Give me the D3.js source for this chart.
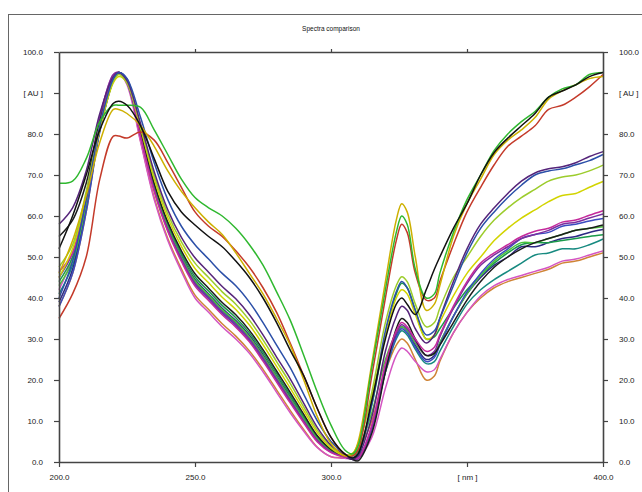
<!DOCTYPE html>
<html><head><meta charset="utf-8">
<script src="https://cdn.jsdelivr.net/npm/d3@7"></script>
<style>body{margin:0;background:#fff}svg{display:block}</style>
</head><body><svg id="c" width="642" height="492"></svg>
<script>
const wavelengths = [200,205,210,215,220,222,225,230,235,240,245,250,255,260,265,270,275,280,285,290,295,300,305,308,310,315,320,324,326,328,331,335,338,340,345,350,355,360,365,370,375,380,385,390,395,400];

const greenA   = [68,68.5,74,83,87,87,87,86.5,81,75,69,64.5,62,60,57,53,48,41.5,34.6,26,17,9,3,2,4,23,42,56,60,58,47,40,41,46,56,64,70,76,80,83,85.5,89,91,92,94.5,95];
const blackA   = [52,60,70,81,87.5,88,87,82,74,66,61,57.8,55,52.5,49,45,40,34,27.3,21,13,6,2,1,2,15,30,38.5,40,38.5,36,42,47,50,57,63,70,75.5,79,82,85,89,90.5,92,94,95];
const redA     = [35,41,50,69,79.5,79.5,79,80.5,78.5,73,67,61,57.5,55,51.5,47.5,42.5,36.5,29,21,13,6,2,1.5,3,21,40,54,58,56,46,39.5,40,44,53,61,67,72.5,77,79.5,82,86,87,89,91.5,94.5];
const ochreA   = [46,54,65,78,86,86,85,82,77,71,66,62,58.5,55.5,51,46,41,35,28.5,20,11,4.5,1.5,2,5,24,44,59,63,61,50,37,38.5,43,55,63,69,75,78.5,81,84,88.5,90.5,92,93.5,94];
const blueA    = [40,49,64,82,93.5,95,93.5,84,73,64,57.5,53,49.5,46,43,39,34,28.5,23,16.5,10,5,2,1,2,14,32,41.5,44,42.5,37,31,32,35,43,51,57,61,64.5,67.5,70,71,71.5,72.5,73.5,75];
const purpleA  = [58,62,71,85,94,95,93,82.5,70.8,61.5,54.8,49.8,46.3,42.8,39.8,35.9,31,25.6,20.3,14.3,8.4,4.1,1.8,0.8,1.5,11,27,35.5,38,37,32.5,29,31,35,44,52,58,62,65.5,68.5,70.5,71.5,72,73,74.5,75.7];
const limeA    = [47.6,53,66,82,93,94.5,92.5,81.9,69.9,60.5,53.7,48.5,45,41.5,38.5,34.6,29.8,24.5,19.2,13.4,7.7,3.8,1.7,2,4,17,34,43,45.2,44,38.5,33,34,37.5,45,50,55,59,62,64.5,66.5,68.5,69.5,70,71,72.4];
const yellowA  = [45,52,65,81,92.5,94,92.5,81.3,69,59.5,52.6,47.2,43.7,40.2,37.2,33.4,28.6,23.3,18,12.5,7.1,3.4,1.6,2.2,4.5,16,31,40,42,41,36,30,31,34,40.5,46,50,54,57,59.5,61.5,63.5,65,65.5,67,68.4];
const magentaA = [46.4,51,64,82,94,95,93,79.3,66,56.2,48.9,42.9,39.4,35.9,32.9,29.3,24.6,19.5,14.4,9.5,4.9,2.3,1.2,1,1,9,24,32,34,33,30,27,28,31,38,44,48.5,51,53,55,56.3,57,58.5,59,60.2,61.3];
const pinkA    = [42,50,65,84,94.5,95,92,78,64,54,46.5,40,36.5,33,30,26.5,22,17,12,7.5,3.5,1.3,0.9,0.8,1,6,18,26,27.8,27,24.5,22,22.5,25,31.5,36.5,40.5,43,44.5,45.5,46.5,47.5,49,49.5,50.5,51.5];
const orangeA  = [38,46,61,81,94,95,92.5,78.3,64.5,54.5,47.1,40.7,37.2,33.7,30.7,27.1,22.6,17.6,12.6,7.9,3.6,1.3,1.2,1.8,3,10,22,28.5,30,29,25,20,21,24.5,31.5,36.5,40,42.5,44,45,46,47,48.5,49,50,51];
const tealA    = [41,48,62,81,93,95,93,79.8,66.7,57,49.8,43.9,40.4,36.9,33.9,30.3,25.6,20.5,15.3,10.2,5.5,2.6,1.3,0.7,1,8,22,30,32,31,27.5,24,24.5,27,33,38.5,42,44.5,46.5,48.5,50.5,51,52,52,53,54.4];
const green2A  = [44,50,63,81,93,95,93,80.4,67.6,58,50.9,45.2,41.7,38.2,35.2,31.5,26.8,21.6,16.4,11.1,6.1,2.9,1.4,1,2.5,14,31,41,43.6,42.5,37,30,30.5,32.5,37.5,42,45.5,48.5,51,53,53.5,53.5,54,54.5,55,55.4];
const navyA    = [39,47,62,81,93.5,95,93,80.1,67.2,57.5,50.4,44.5,41,37.5,34.5,30.9,26.2,21,15.9,10.7,5.8,2.7,1.3,0.6,0.8,8,22.5,31,33,32,28.5,25,26,29,35.5,41,45,48,50,52.5,52.5,53.5,54.5,55,56,56.7];
const blue2A   = [37.9,46,61,80.5,93,95,93.5,79.5,66.3,56.5,49.3,43.3,39.8,36.3,33.3,29.6,25,19.9,14.8,9.8,5.1,2.4,1.6,1.1,1.2,8,22,30.5,32.5,31.5,28,24.5,25.5,28.5,35.5,41.5,46,49.5,52,54.5,55.5,56,57.5,58,58.8,59.4];
const black2A  = [55,59,68,83,93.5,95,93,80.7,68,58.5,51.5,45.9,42.4,38.9,35.9,32.1,27.4,22.2,17,11.6,6.4,3.1,1.5,0.6,0.3,7,22,32.5,35,34,30,26,26.5,28.5,34,39.5,44,47.5,50,52,53.5,54.5,55.5,56.5,57,57.8];
const lgreenA  = [43,49,63,81.5,93.5,95,92.5,79.9,66.9,57.2,50,44.2,40.7,37.2,34.2,30.5,25.8,20.7,15.5,10.4,5.6,2.6,1.3,1.5,3,12,25,31.5,33,32,29,26,26.5,29,35.5,41,45.5,49,51.5,53.5,53.5,54.5,55.5,56.5,57,57.4];
const violetA  = [45,51,65,84,94.5,95,92.5,79.7,66.5,56.8,49.6,43.6,40.1,36.6,33.6,30,25.4,20.2,15.1,10,5.3,2.5,1.3,0.6,0.8,8.5,23,31.5,33.5,32.5,29.5,26,27,30.5,37.5,43.5,48,50.5,52.5,54.5,55.5,56.5,58,58.5,59.5,60.5];

const seriesValues = [orangeA, pinkA, tealA, navyA, green2A, lgreenA, blue2A, violetA, black2A, magentaA, yellowA, limeA, purpleA, blueA, redA, ochreA, greenA, blackA];
const seriesColors = ["#cf8436","#d455c2","#178a80","#2d2a84","#1a9a4a","#4cc43a","#3b4cc0","#7b2f9e","#1c1c1c","#c42a9c","#d2d400","#9ccc2c","#55247a","#2b4fa8","#c43a2a","#cdb000","#2fb82f","#111111"];

const yTicks = [0,10,20,30,40,50,60,70,80,90,100];
const yTickLabels = ["0.0","10.0","20.0","30.0","40.0","50.0","60.0","70.0","80.0","[ AU ]","100.0"];
const xTicks = [200,250,300,350,400];
const xTickLabels = ["200.0","250.0","300.0","[ nm ]","400.0"];
const title = "Spectra comparison";

const svg = d3.select("#c");
const L = 59, R = 603, T = 52, B = 462;
const x = d3.scaleLinear().domain([200,400]).range([L,R]);
const y = d3.scaleLinear().domain([0,100]).range([B,T]);
const FONT = "'Liberation Sans', Arial, sans-serif";

svg.append("rect").attr("x",8.5).attr("y",14.5).attr("width",700).attr("height",520)
  .attr("fill","none").attr("stroke","#666").attr("stroke-width",1);

svg.append("text").attr("x",331).attr("y",31).attr("text-anchor","middle")
  .attr("font-family",FONT).attr("font-size",6.5).attr("fill","#111").text(title);

const line = d3.line().x((d,i)=>x(wavelengths[i])).y(d=>y(d)).curve(d3.curveCatmullRom.alpha(0.5));
const lines = svg.append("g");
seriesValues.forEach((vals,k)=>{
  lines.append("path").attr("d", line(vals)).attr("fill","none")
    .attr("stroke", seriesColors[k]).attr("stroke-width",1.5).attr("stroke-linejoin","round");
});

const axisColor = "#444";
function styleAxis(g){
  g.selectAll("path.domain").attr("stroke",axisColor).attr("stroke-width",1.6);
  g.selectAll(".tick line").attr("stroke",axisColor).attr("stroke-width",1.2);
  g.selectAll(".tick text").attr("font-family",FONT).attr("font-size",8).attr("fill","#222");
}
svg.append("g").attr("transform",`translate(${L},0)`)
  .call(d3.axisLeft(y).tickValues(yTicks).tickFormat((d,i)=>yTickLabels[i]).tickSize(5).tickSizeOuter(0).tickPadding(11))
  .call(styleAxis);
svg.append("g").attr("transform",`translate(${R},0)`)
  .call(d3.axisRight(y).tickValues(yTicks).tickFormat((d,i)=>yTickLabels[i]).tickSize(5).tickSizeOuter(0).tickPadding(11))
  .call(styleAxis);
svg.append("g").attr("transform",`translate(0,${B})`)
  .call(d3.axisBottom(x).tickValues(xTicks).tickFormat((d,i)=>xTickLabels[i]).tickSize(5).tickSizeOuter(0).tickPadding(7))
  .call(styleAxis);
svg.append("g").attr("transform",`translate(0,${T})`)
  .call(d3.axisTop(x).tickValues(xTicks.slice(1,4)).tickFormat("").tickSize(3).tickSizeOuter(0))
  .call(styleAxis);
</script></body></html>
